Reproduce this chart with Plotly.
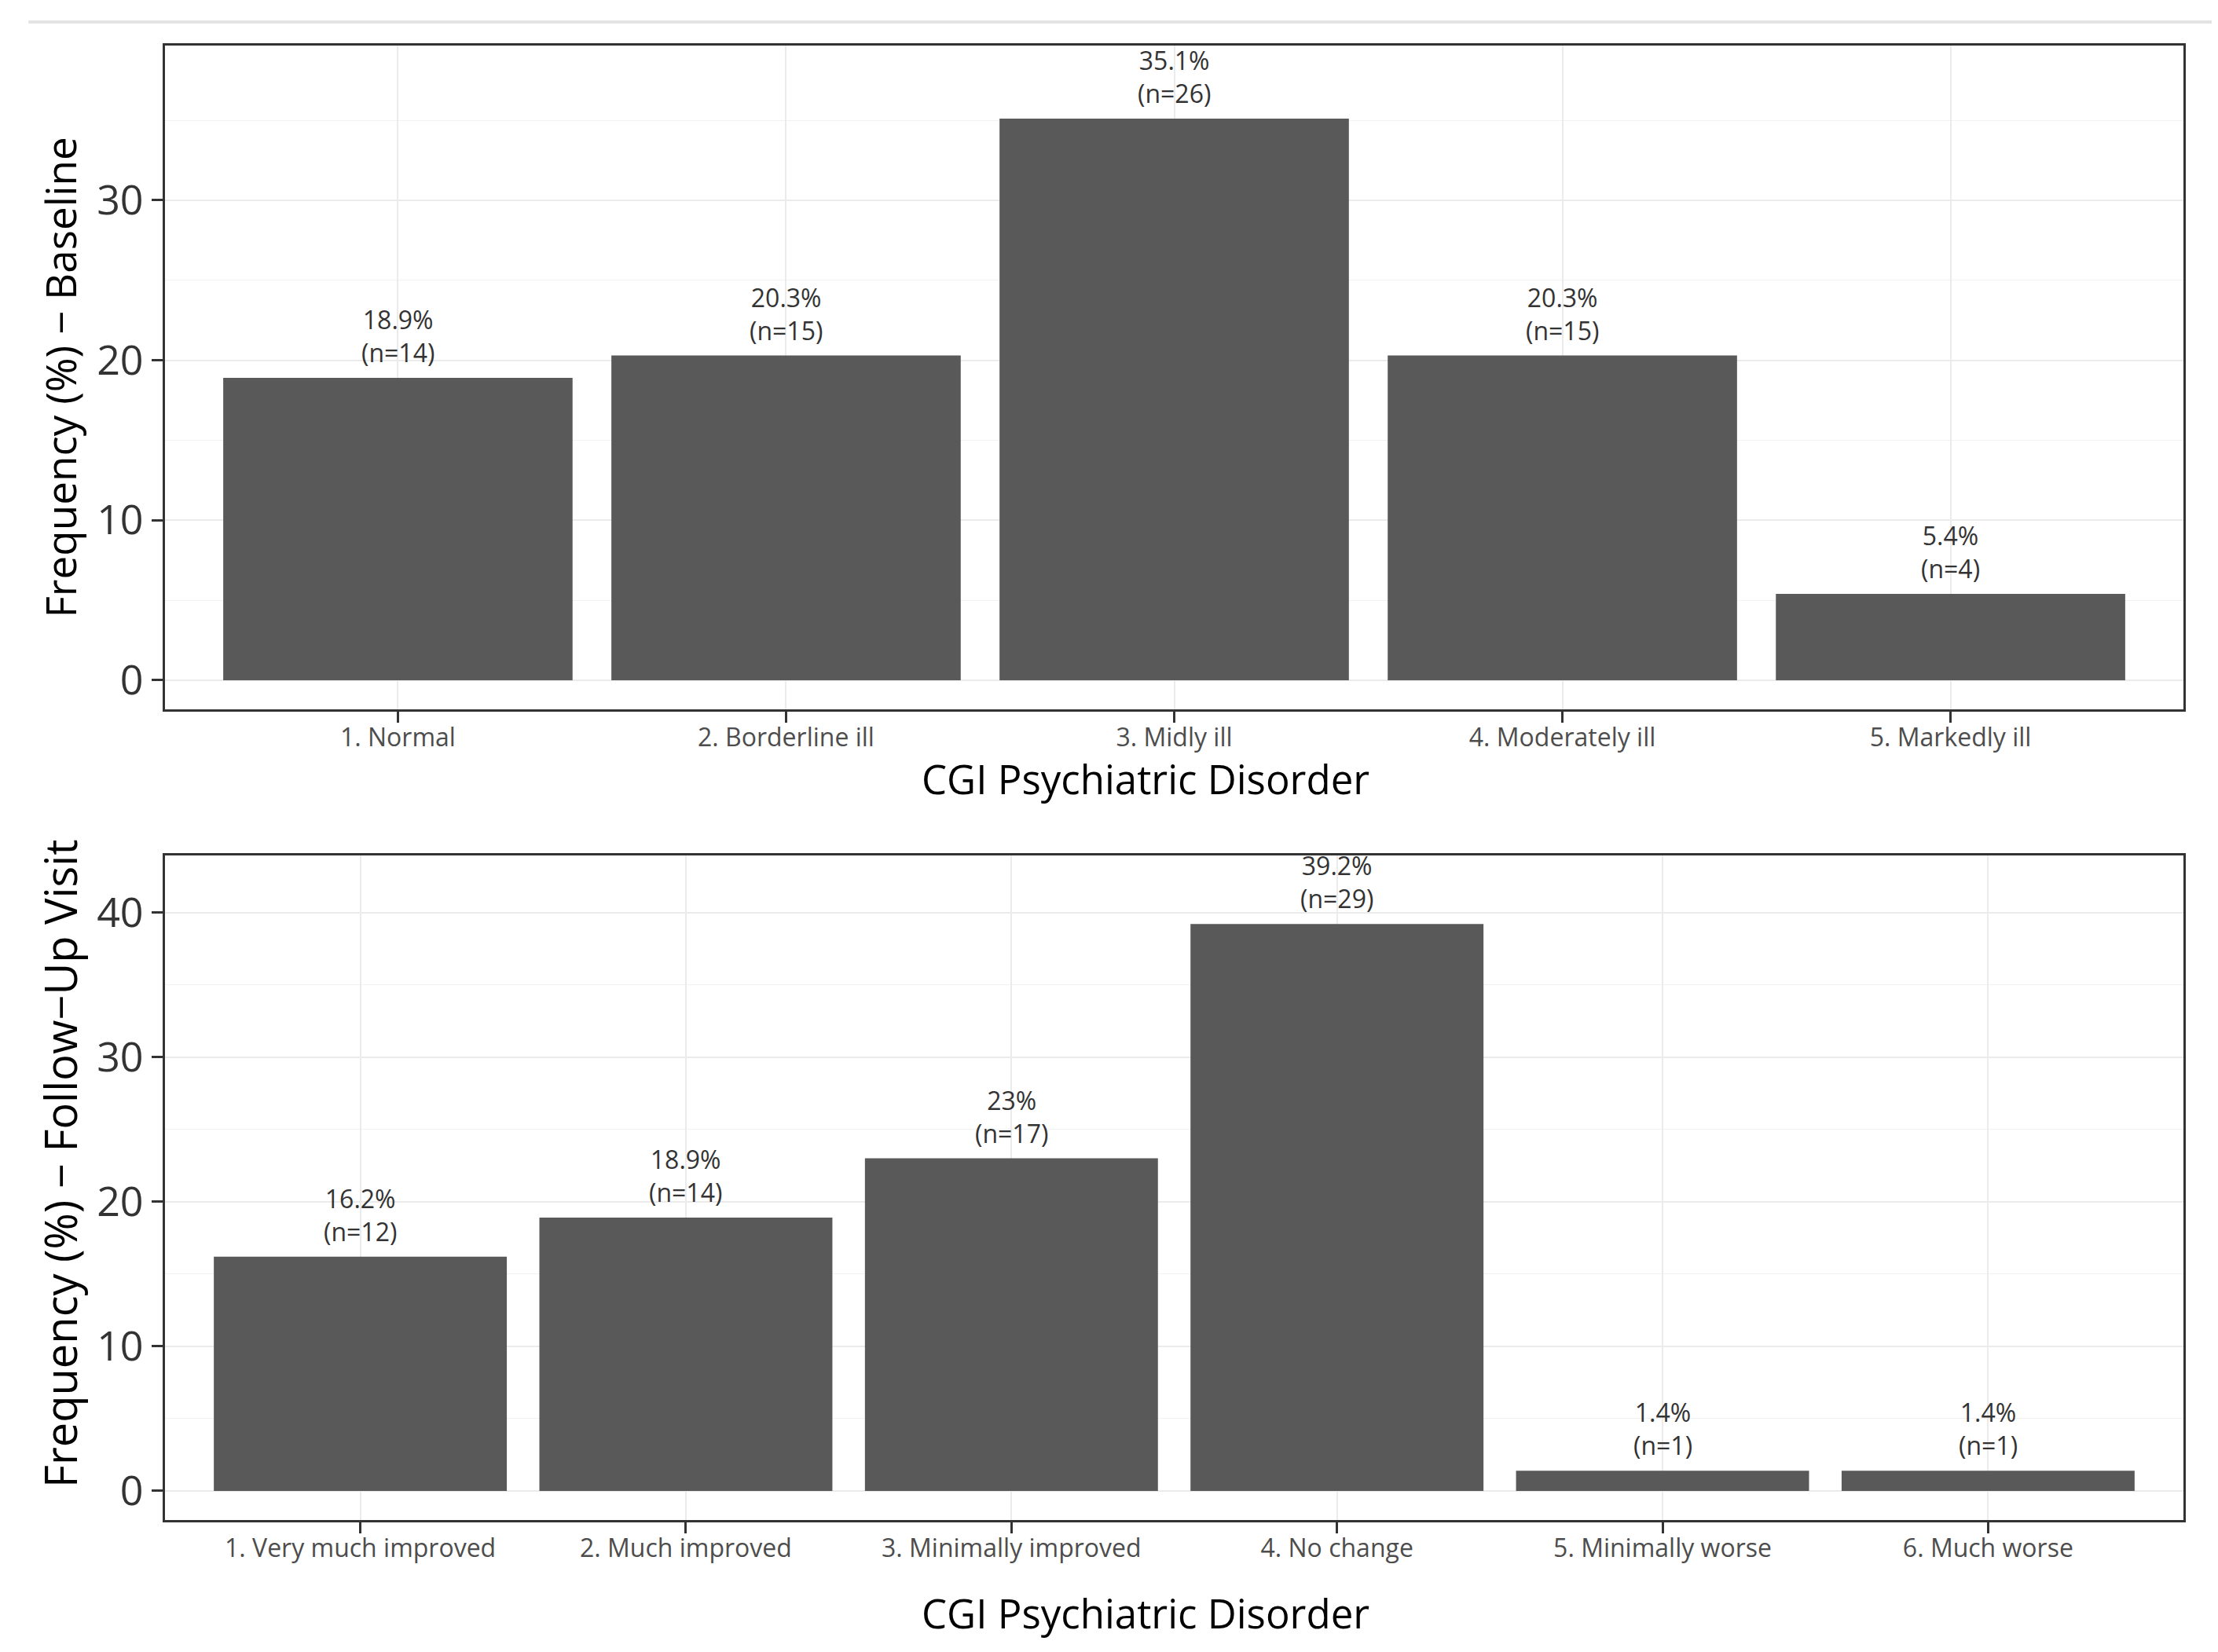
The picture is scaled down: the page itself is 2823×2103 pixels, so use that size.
import plotly.graph_objects as go

# ---- data ----
baseline_categories = ["1. Normal", "2. Borderline ill", "3. Midly ill", "4. Moderately ill", "5. Markedly ill"]
baseline_pct = [18.9, 20.3, 35.1, 20.3, 5.4]
baseline_n = [14, 15, 26, 15, 4]
baseline_pct_labels = ["18.9%", "20.3%", "35.1%", "20.3%", "5.4%"]

followup_categories = ["1. Very much improved", "2. Much improved", "3. Minimally improved",
                       "4. No change", "5. Minimally worse", "6. Much worse"]
followup_pct = [16.2, 18.9, 23.0, 39.2, 1.4, 1.4]
followup_n = [12, 14, 17, 29, 1, 1]
followup_pct_labels = ["16.2%", "18.9%", "23%", "39.2%", "1.4%", "1.4%"]

y1_ticks = [0, 10, 20, 30]
y2_ticks = [0, 10, 20, 30, 40]

# ---- style ----
FONT = "Open Sans"
BAR = "#595959"
GRID = "#ebebeb"
AXIS = "#333333"
W, H = 2823, 2103

fig = go.Figure()
fig.add_trace(go.Bar(x=baseline_categories, y=baseline_pct, marker_color=BAR, width=0.9,
                     marker_line_width=0, xaxis="x", yaxis="y", showlegend=False))
fig.add_trace(go.Bar(x=followup_categories, y=followup_pct, marker_color=BAR, width=0.9,
                     marker_line_width=0, xaxis="x2", yaxis="y2", showlegend=False))

annotations = []
for c, p, n, lab in zip(baseline_categories, baseline_pct, baseline_n, baseline_pct_labels):
    annotations.append(dict(x=c, y=p, xref="x", yref="y", text=f"{lab}<br>(n={n})",
                            showarrow=False, yanchor="bottom", yshift=9,
                            font=dict(family=FONT, size=32, color="#333333")))
for c, p, n, lab in zip(followup_categories, followup_pct, followup_n, followup_pct_labels):
    annotations.append(dict(x=c, y=p, xref="x2", yref="y2", text=f"{lab}<br>(n={n})",
                            showarrow=False, yanchor="bottom", yshift=9,
                            font=dict(family=FONT, size=32, color="#333333")))

top_dom = [1 - 895 / H, 1 - 50 / H]
bot_dom = [1 - 1927 / H, 1 - 1081 / H]
x_dom = [202 / W, 2771 / W]

TITLE_X = 1450 / W

# axis titles
annotations += [
    dict(text="CGI Psychiatric Disorder", x=TITLE_X, y=1 - 983 / H,
         xref="paper", yref="paper", showarrow=False, xanchor="center", yanchor="middle",
         font=dict(family=FONT, size=51, color="#000000")),
    dict(text="CGI Psychiatric Disorder", x=TITLE_X, y=1 - 2045 / H,
         xref="paper", yref="paper", showarrow=False, xanchor="center", yanchor="middle",
         font=dict(family=FONT, size=51, color="#000000")),
    dict(text="Frequency (%) − Baseline", x=68 / W, y=0.5 * (top_dom[0] + top_dom[1]),
         xref="paper", yref="paper", showarrow=False, textangle=-90,
         xanchor="center", yanchor="middle",
         font=dict(family=FONT, size=53, color="#000000")),
    dict(text="Frequency (%) − Follow−Up Visit", x=68 / W,
         y=0.5 * (bot_dom[0] + bot_dom[1]) + 30 / H,
         xref="paper", yref="paper", showarrow=False, textangle=-90,
         xanchor="center", yanchor="middle",
         font=dict(family=FONT, size=56, color="#000000")),
]

xcommon = dict(showgrid=True, gridcolor=GRID, gridwidth=2, showline=True, linecolor=AXIS,
               linewidth=3, mirror=True, ticks="outside", ticklen=14, tickwidth=3, tickcolor=AXIS,
               ticklabelstandoff=-8,
               tickfont=dict(family=FONT, size=32, color="#4d4d4d"), zeroline=False, domain=x_dom)
ycommon = dict(showgrid=True, gridcolor=GRID, gridwidth=2, showline=True, linecolor=AXIS,
               linewidth=3, mirror=True, ticks="outside", ticklen=14, tickwidth=3, tickcolor=AXIS,
               tickfont=dict(family=FONT, size=52, color="#333333"), zeroline=False,
               minor=dict(dtick=5, showgrid=True, gridcolor="#f2f2f2", gridwidth=1, ticks=""))

fig.update_layout(
    width=W, height=H, margin=dict(l=0, r=0, t=0, b=0),
    paper_bgcolor="white", plot_bgcolor="white", bargap=0.1,
    xaxis=dict(**xcommon, anchor="y", range=[-0.6, 4.6]),
    yaxis=dict(**ycommon, anchor="x", domain=top_dom, range=[-1.82, 39.67], tickvals=y1_ticks),
    xaxis2=dict(**xcommon, anchor="y2", range=[-0.6, 5.6]),
    yaxis2=dict(**ycommon, anchor="x2", domain=bot_dom, range=[-2.01, 43.94], tickvals=y2_ticks),
    annotations=annotations,
    shapes=[dict(type="line", xref="paper", yref="paper", x0=0.01, x1=0.995,
                 y0=1 - 20 / H, y1=1 - 20 / H, line=dict(color="#e3e3e3", width=4))],
)

fig.write_html("out.html")
